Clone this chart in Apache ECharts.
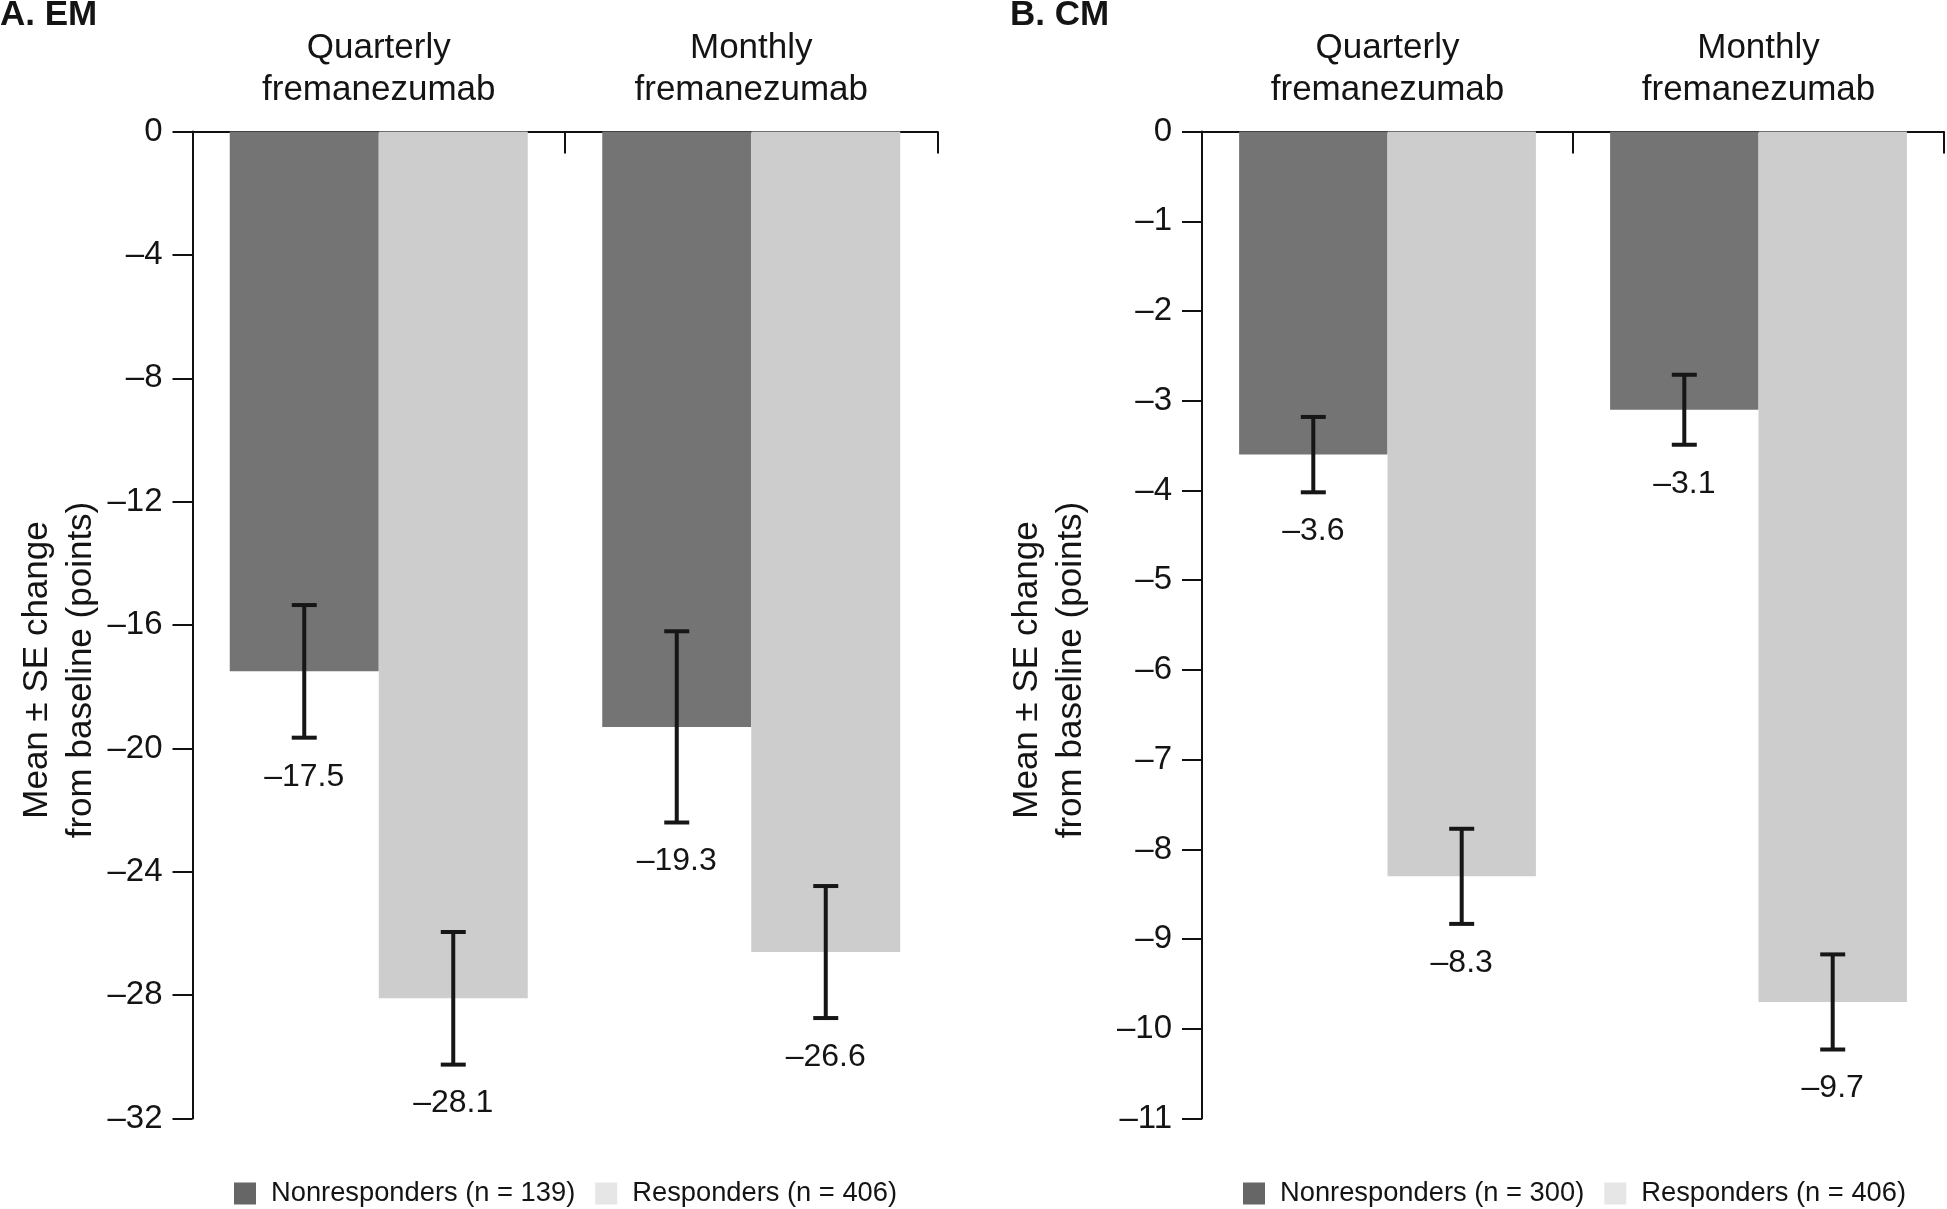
<!DOCTYPE html>
<html>
<head>
<meta charset="utf-8">
<script src="https://cdn.jsdelivr.net/npm/echarts@6/dist/echarts.min.js"></script>
<style>
html,body{margin:0;padding:0;background:#fff;}
#chart{width:1947px;height:1209px;}
</style>
</head>
<body>
<div id="chart"></div>
<script>
// ---- data ----
const categories = ['Quarterly\nfremanezumab', 'Monthly\nfremanezumab'];

const emNonName = 'Nonresponders (n = 139)';
const emRespName = 'Responders (n = 406)';
const emNon = [-17.5, -19.3];
const emNonSE = [2.15, 3.1];
const emResp = [-28.1, -26.6];
const emRespSE = [2.15, 2.14];

const cmNonName = 'Nonresponders (n = 300)';
const cmRespName = 'Responders (n = 406)';
const cmNon = [-3.6, -3.1];
const cmNonSE = [0.42, 0.39];
const cmResp = [-8.3, -9.7];
const cmRespSE = [0.53, 0.53];

const emTicks = { min: -32, max: 0, interval: 4 };
const cmTicks = { min: -11, max: 0, interval: 1 };

// ---- styles ----
const FONT = 'Liberation Sans';
const TXT = '#141414';
const DARK = '#747474';
const LIGHT = '#cdcdcd';
const LEG_DARK = '#666666';
const LEG_LIGHT = '#e6e6e6';

function dashNum(v, digits) {
  if (v === 0) return '0';
  const s = digits != null ? Math.abs(v).toFixed(digits) : String(Math.abs(v));
  return (v < 0 ? '\u2013' : '') + s;
}

function errData(means, ses, side) {
  return means.map((m, i) => [i, m, ses[i], side]);
}

function renderErr(params, api) {
  const cat = api.value(0), mean = api.value(1), se = api.value(2), side = api.value(3);
  const band = api.size([1, 0])[0];
  const c = api.coord([cat, mean]);
  const x = c[0] + side * band * 0.2;
  const hi = api.coord([cat, mean + se])[1];
  const lo = api.coord([cat, mean - se])[1];
  const cap = 12.5;
  const ls = { stroke: '#161616', lineWidth: 4 };
  return {
    type: 'group',
    children: [
      { type: 'line', shape: { x1: x, y1: hi, x2: x, y2: lo }, style: ls },
      { type: 'line', shape: { x1: x - cap, y1: hi, x2: x + cap, y2: hi }, style: ls },
      { type: 'line', shape: { x1: x - cap, y1: lo, x2: x + cap, y2: lo }, style: ls },
      { type: 'text', x: x, y: lo + 39, style: { text: dashNum(mean, 1), font: '32px "' + FONT + '"', fill: TXT, align: 'center', verticalAlign: 'middle' } }
    ]
  };
}

function xAxisCfg(gi) {
  return {
    type: 'category', gridIndex: gi, data: categories, position: 'top',
    axisLine: { show: true, lineStyle: { color: '#111', width: 2 } },
    axisTick: { show: true, inside: true, length: 22, lineStyle: { color: '#111', width: 2 } },
    axisLabel: { margin: 20, fontSize: 35, lineHeight: 42, color: TXT, fontFamily: FONT },
    splitLine: { show: false }
  };
}
function yAxisCfg(gi, t) {
  return {
    type: 'value', gridIndex: gi, min: t.min, max: t.max, interval: t.interval,
    axisLine: { show: true, lineStyle: { color: '#111', width: 2 } },
    axisTick: { show: true, inside: false, length: 20, lineStyle: { color: '#111', width: 2 } },
    axisLabel: { margin: 30, fontSize: 33, color: TXT, fontFamily: FONT, formatter: v => dashNum(v) },
    splitLine: { show: false }
  };
}

const chart = echarts.init(document.getElementById('chart'), null, { renderer: 'canvas' });
const yName = 'Mean \u00b1 SE change\nfrom baseline (points)';

chart.setOption({
  animation: false,
  backgroundColor: '#fff',
  textStyle: { fontFamily: FONT, color: TXT },
  title: [
    { text: 'A. EM', left: 0, top: -2, padding: 0, textStyle: { fontSize: 35, fontWeight: 'bold', color: TXT, fontFamily: FONT } },
    { text: 'B. CM', left: 1010, top: -2, padding: 0, textStyle: { fontSize: 35, fontWeight: 'bold', color: TXT, fontFamily: FONT } }
  ],
  grid: [
    { left: 192.5, top: 131.6, width: 745, height: 987 },
    { left: 1202, top: 131.6, width: 742, height: 987 }
  ],
  xAxis: [xAxisCfg(0), xAxisCfg(1)],
  yAxis: [yAxisCfg(0, emTicks), yAxisCfg(1, cmTicks)],
  legend: [
    {
      left: 229, top: 1175, itemWidth: 22, itemHeight: 22, itemGap: 20, icon: 'rect',
      textStyle: { fontSize: 27.3, color: TXT, fontFamily: FONT, padding: [0, 0, 0, 10] },
      data: [{ name: emNonName, itemStyle: { color: LEG_DARK } }, { name: emRespName, itemStyle: { color: LEG_LIGHT } }]
    },
    {
      left: 1238, top: 1175, itemWidth: 22, itemHeight: 22, itemGap: 20, icon: 'rect',
      textStyle: { fontSize: 27.3, color: TXT, fontFamily: FONT, padding: [0, 0, 0, 10] },
      data: [{ name: cmNonName, itemStyle: { color: LEG_DARK } }, { name: cmRespName, itemStyle: { color: LEG_LIGHT } }]
    }
  ],
  graphic: [
    { type: 'text', x: 59, y: 670, rotation: Math.PI / 2, style: { text: yName, font: '35px "' + FONT + '"', fill: TXT, align: 'center', verticalAlign: 'middle', lineHeight: 44 } },
    { type: 'text', x: 1049, y: 670, rotation: Math.PI / 2, style: { text: yName, font: '35px "' + FONT + '"', fill: TXT, align: 'center', verticalAlign: 'middle', lineHeight: 44 } }
  ],
  series: [
    { name: emNonName, type: 'bar', xAxisIndex: 0, yAxisIndex: 0, data: emNon, barWidth: '40%', barGap: '0%', itemStyle: { color: DARK } },
    { name: emRespName, type: 'bar', xAxisIndex: 0, yAxisIndex: 0, data: emResp, barWidth: '40%', barGap: '0%', itemStyle: { color: LIGHT } },
    { name: cmNonName, type: 'bar', xAxisIndex: 1, yAxisIndex: 1, data: cmNon, barWidth: '40%', barGap: '0%', itemStyle: { color: DARK } },
    { name: cmRespName, type: 'bar', xAxisIndex: 1, yAxisIndex: 1, data: cmResp, barWidth: '40%', barGap: '0%', itemStyle: { color: LIGHT } },
    { type: 'custom', xAxisIndex: 0, yAxisIndex: 0, renderItem: renderErr, encode: { x: 0, y: 1 }, z: 10,
      data: errData(emNon, emNonSE, -1).concat(errData(emResp, emRespSE, 1)) },
    { type: 'custom', xAxisIndex: 1, yAxisIndex: 1, renderItem: renderErr, encode: { x: 0, y: 1 }, z: 10,
      data: errData(cmNon, cmNonSE, -1).concat(errData(cmResp, cmRespSE, 1)) }
  ]
});
</script>
</body>
</html>
